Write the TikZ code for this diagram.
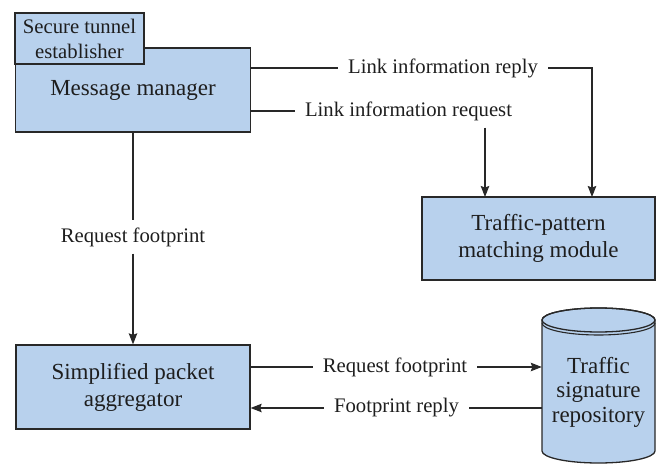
\documentclass[tikz,border=0pt]{standalone}
\usepackage{fontspec}
\setmainfont{Liberation Serif}
\usetikzlibrary{arrows.meta}
\definecolor{boxfill}{RGB}{184,209,237}
\definecolor{edgec}{RGB}{40,40,40}
\definecolor{txtc}{RGB}{30,30,30}
\tikzset{
  blk/.style={draw=edgec, line width=1.3pt, fill=boxfill, inner sep=0pt, align=center,
    font=\fontsize{23}{27}\selectfont, text=txtc},
  lbl/.style={inner xsep=10pt, inner ysep=7pt, font=\fontsize{20.7}{24}\selectfont, text=txtc},
  conn/.style={draw=edgec, line width=1.1pt},
  arr/.style={conn, -{Stealth[length=11pt, width=8.5pt, inset=1.5pt]}}
}
\begin{document}
\begin{tikzpicture}[x=1pt, y=-1pt]
\useasboundingbox (0,0) rectangle (664,465);
% boxes
\node[blk, minimum width=235pt, minimum height=84pt] (mm) at (133,90) {Message manager};
\node[blk, minimum width=129pt, minimum height=51pt, font=\fontsize{20.7}{25}\selectfont] (ste) at (79.5,38.5) {Secure tunnel\\establisher};
\node[blk, minimum width=233pt, minimum height=83pt] (tpm) at (538.5,238.5) {Traffic-pattern\\matching module};
\node[blk, minimum width=234pt, minimum height=84pt] (spa) at (133,387) {Simplified packet\\aggregator};
% cylinder
\filldraw[draw=edgec, line width=1.3pt, fill=boxfill]
  (542,320) -- (542,451) arc[start angle=180, end angle=0, x radius=56.5, y radius=12]
  -- (655,320) arc[start angle=0, end angle=-180, x radius=56.5, y radius=12] -- cycle;
\draw[draw=edgec, line width=1.3pt] (598.5,320) ellipse [x radius=56.5, y radius=12];
\draw[draw=edgec, line width=1.1pt] (542,323) arc[start angle=180, end angle=0, x radius=56.5, y radius=12];
\node[align=center, inner sep=0pt, minimum width=113pt, minimum height=155pt,
  font=\fontsize{23}{24.5}\selectfont, text=txtc] (tsr) at (598.5,392) {Traffic\\signature\\repository};
% labels
\node[lbl] (lir) at (443,68) {Link information reply};
\node[lbl] (lrq) at (408.5,111) {Link information request};
\node[lbl] (rf1) at (133,237) {Request footprint};
\node[lbl] (rf2) at (395,367) {Request footprint};
\node[lbl] (fr) at (396.5,408) {Footprint reply};
\coordinate (tpmR) at (592,197);
\coordinate (tpmL) at (485,197);
% connectors
\draw[conn] (mm.east |- lir) -- (lir.west);
\draw[arr] (lir.east) -| (tpmR);
\draw[conn] (mm.east |- lrq) -- (lrq.west);
\draw[arr] (lrq.south -| tpmL) -- (tpmL);
\draw[conn] (mm.south) -- (rf1.north);
\draw[arr] (rf1.south) -- (spa.north);
\draw[conn] (spa.east |- rf2) -- (rf2.west);
\draw[arr] (rf2.east) -- (tsr.west |- rf2);
\draw[conn] (tsr.west |- fr) -- (fr.east);
\draw[arr] (fr.west) -- (spa.east |- fr);
\end{tikzpicture}
\end{document}
